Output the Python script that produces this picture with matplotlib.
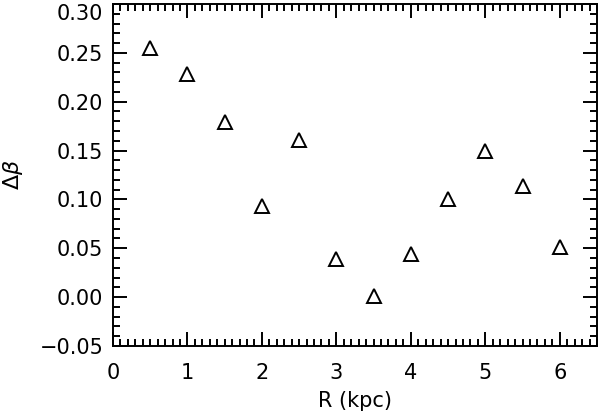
import matplotlib
matplotlib.use('Agg')
import matplotlib.pyplot as plt
from matplotlib.ticker import MultipleLocator

# Radius (kpc) and delta beta values
r_kpc = [0.5, 1.0, 1.5, 2.0, 2.5, 3.0, 3.5, 4.0, 4.5, 5.0, 5.5, 6.0]
delta_beta = [0.255, 0.228, 0.179, 0.093, 0.161, 0.039, 0.001, 0.044, 0.100, 0.150, 0.114, 0.051]

x_ticks = [0, 1, 2, 3, 4, 5, 6]
y_ticks = [-0.05, 0.00, 0.05, 0.10, 0.15, 0.20, 0.25, 0.30]

plt.rcParams['font.family'] = ['DejaVu Sans']
plt.rcParams['mathtext.fontset'] = 'dejavusans'

fig = plt.figure(figsize=(6.0, 4.15), dpi=100)
ax = fig.add_axes([0.1883, 0.1663, 0.8067, 0.8241])

ax.plot(r_kpc, delta_beta, linestyle='none', marker='^', markersize=10,
        markerfacecolor='none', markeredgecolor='black', markeredgewidth=1.4)

ax.set_xlim(0, 6.5)
ax.set_ylim(-0.05, 0.30)

ax.set_xticks(x_ticks)
ax.set_xticklabels([str(v) for v in x_ticks])
ax.set_yticks(y_ticks)
ax.set_yticklabels(['\u2212%.2f' % abs(v) if v < 0 else '%.2f' % v for v in y_ticks])
ax.xaxis.set_minor_locator(MultipleLocator(0.1))
ax.yaxis.set_minor_locator(MultipleLocator(0.01))

ax.tick_params(which='both', direction='in', top=True, right=True,
               width=1.4, colors='black', labelsize=15)
ax.tick_params(which='major', length=10)
ax.tick_params(which='minor', length=5)
ax.tick_params(axis='x', which='major', pad=12)
ax.tick_params(axis='y', which='major', pad=7)
for s in ax.spines.values():
    s.set_linewidth(1.4)

# top label sits just below the top edge, like the original
ax.get_yticklabels()[-1].set_verticalalignment('top')

ax.set_xlabel('R (kpc)', fontsize=15)
ax.xaxis.set_label_coords(0.5, -0.133)
ax.set_ylabel(r'$\Delta\beta$', fontsize=16)
ax.yaxis.set_label_coords(-0.182, 0.5)

fig.savefig('out.png', dpi=100)
